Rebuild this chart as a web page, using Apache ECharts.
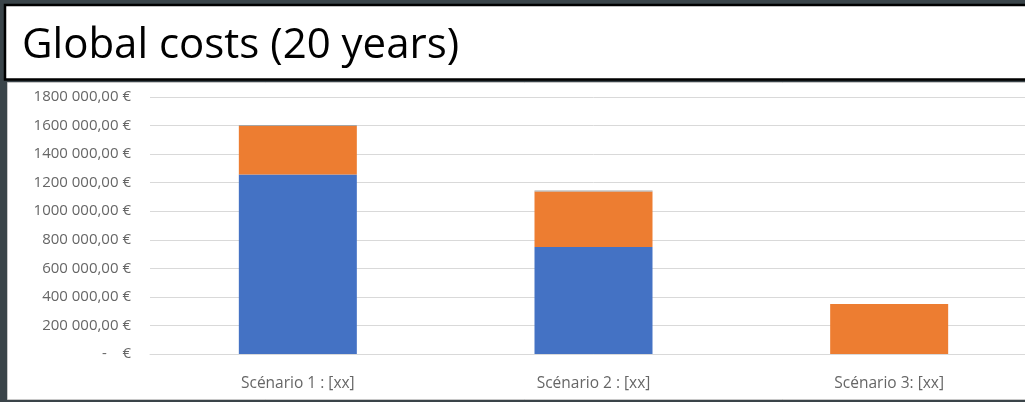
<!DOCTYPE html>
<html>
<head>
<meta charset="utf-8">
<script src="https://cdn.jsdelivr.net/npm/echarts@6/dist/echarts.min.js"></script>
<style>
html,body{margin:0;padding:0;background:#3a4449;overflow:hidden;width:1025px;height:402px;}
#c{width:1040px;height:402px;}
</style>
</head>
<body>
<div id="c"></div>
<script>
const categories = ['Scénario 1 : [xx]', 'Scénario 2 : [xx]', 'Scénario 3: [xx]'];
const seriesBlue = [1257000, 750000, 0];
const seriesOrange = [340000, 388000, 350000];
const seriesGrey = [7000, 7000, 0];
const yTicks = [0, 200000, 400000, 600000, 800000, 1000000, 1200000, 1400000, 1600000, 1800000];

function fmt(v) {
  if (v === 0) return '-    €';
  return Math.floor(v / 1000) + ' 000,00 €';
}

const chart = echarts.init(document.getElementById('c'), null, {renderer: 'canvas'});
chart.setOption({
  backgroundColor: 'transparent',
  animation: false,
  graphic: [
    {type: 'rect', z: -10, shape: {x: 7.5, y: 82.5, width: 1040, height: 317}, style: {fill: '#ffffff', stroke: '#c8c8c8', lineWidth: 1}},
    {type: 'rect', z: -9, shape: {x: 5, y: 5, width: 1040, height: 74.5}, style: {fill: '#ffffff', stroke: '#000000', lineWidth: 2.5}},
    {type: 'text', z: 10, left: 22, top: 25, style: {text: 'Global costs (20 years)', font: '42px "Open Sans"', fill: '#000000'}}
  ],
  grid: {left: 150, top: 97, width: 887, height: 257, containLabel: false},
  xAxis: {
    type: 'category',
    data: categories,
    axisLine: {show: true, lineStyle: {color: '#d9d9d9', width: 1}},
    axisTick: {show: false},
    axisLabel: {color: '#666666', fontSize: 15.5, fontFamily: 'Open Sans', margin: 22}
  },
  yAxis: {
    type: 'value',
    min: 0, max: 1800000, interval: 200000,
    axisLine: {show: false},
    axisTick: {show: false},
    splitLine: {lineStyle: {color: '#d9d9d9', width: 1}},
    axisLabel: {color: '#666666', fontSize: 15, fontFamily: 'Open Sans', margin: 19, formatter: fmt}
  },
  series: [
    {name: 'A', type: 'bar', stack: 't', barWidth: 118, data: seriesBlue, itemStyle: {color: '#4472c4'}},
    {name: 'B', type: 'bar', stack: 't', barWidth: 118, data: seriesOrange, itemStyle: {color: '#ed7d31'}},
    {name: 'C', type: 'bar', stack: 't', barWidth: 118, data: seriesGrey, itemStyle: {color: '#a5a5a5'}}
  ]
});
</script>
</body>
</html>
